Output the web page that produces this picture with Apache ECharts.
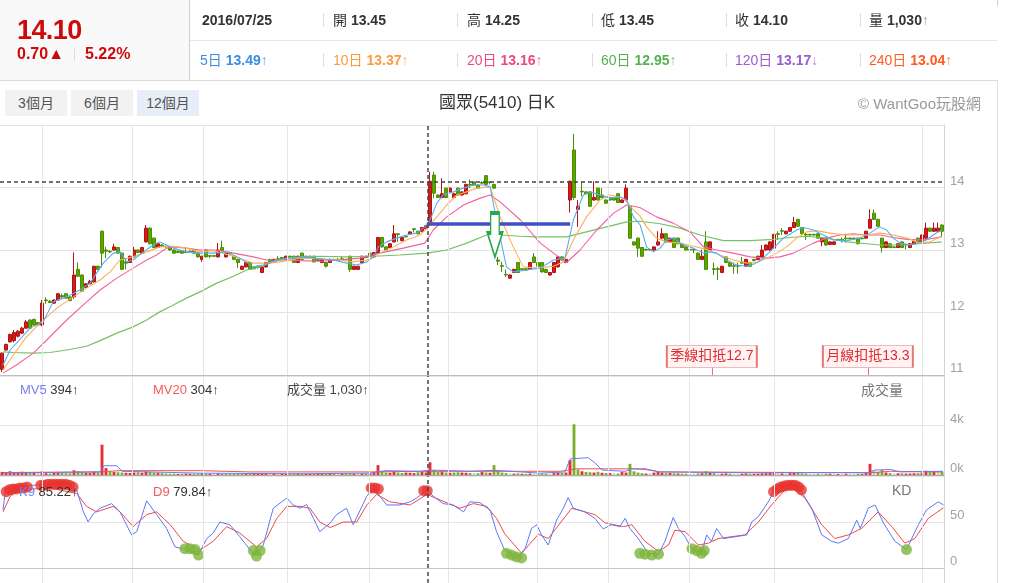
<!DOCTYPE html>
<html><head><meta charset="utf-8">
<script src="https://cdn.jsdelivr.net/npm/echarts@6/dist/echarts.min.js"></script>
<style>
html,body{margin:0;padding:0;background:#fff;}
body{width:1010px;height:583px;overflow:hidden;position:relative;font-family:"Liberation Sans","Noto Sans CJK TC",sans-serif;}
#chart{position:absolute;left:0;top:0;width:1010px;height:583px;}
#ov{position:absolute;left:0;top:0;width:1010px;height:583px;pointer-events:none;z-index:5;}
.t{position:absolute;white-space:nowrap;}
.b{font-weight:bold;}
.ln{position:absolute;background:#e2e2e2;}
.btn{position:absolute;top:90px;height:26px;line-height:26px;width:62px;text-align:center;font-size:14px;color:#555;background:#f2f2f2;}
</style></head><body>
<div id="chart"></div>
<div id="ov">
  <div style="position:absolute;left:0;top:0;width:189px;height:80px;background:#f9f9f9;"></div>
  <div class="ln" style="left:189px;top:0;width:1px;height:80px;background:#cfcfcf;"></div>
  <div class="ln" style="left:190px;top:40px;width:807px;height:1px;background:#e6e6e6;"></div>
  <div class="ln" style="left:0;top:80px;width:998px;height:1px;background:#dcdcdc;"></div>
  <div class="ln" style="left:997px;top:80px;width:1px;height:503px;background:#e0e0e0;"></div>
  <div class="ln" style="left:997px;top:0;width:1px;height:6px;background:#d0d0d0;"></div>

  <div class="t b" style="left:17px;top:15px;height:30px;line-height:30px;font-size:27px;letter-spacing:-0.6px;color:#cc0a0a;">14.10</div>
  <div class="t b" style="left:17px;top:45px;height:18px;line-height:18px;font-size:16px;color:#cc0a0a;">0.70▲</div>
  <div class="ln" style="left:74px;top:48px;width:1px;height:13px;background:#ddd;"></div>
  <div class="t b" style="left:85px;top:45px;height:18px;line-height:18px;font-size:16px;color:#cc0a0a;">5.22%</div>

  <div id="row1"></div>
  <div id="row2"></div>

  <div class="btn" style="left:5px;">3個月</div>
  <div class="btn" style="left:71px;">6個月</div>
  <div class="btn" style="left:137px;background:#e7eef8;">12個月</div>
  <div class="t" style="left:439px;top:92px;height:22px;line-height:22px;font-size:17px;color:#333;">國眾(5410) 日K</div>
  <div class="t" style="left:858px;top:94px;height:20px;line-height:20px;font-size:15px;color:#9a9a9a;">© WantGoo玩股網</div>

  <div class="t" style="left:20px;top:381px;height:18px;line-height:18px;font-size:13px;"><span style="color:#7b7bef">MV5</span> <span style="color:#333">394↑</span></div>
  <div class="t" style="left:153px;top:381px;height:18px;line-height:18px;font-size:13px;"><span style="color:#f35b5b">MV20</span> <span style="color:#333">304↑</span></div>
  <div class="t" style="left:287px;top:381px;height:18px;line-height:18px;font-size:13px;color:#444;">成交量 1,030↑</div>
  <div class="t" style="left:861px;top:381px;height:18px;line-height:18px;font-size:14px;color:#777;">成交量</div>
  <div class="t" style="left:19px;top:483px;height:18px;line-height:18px;font-size:13px;"><span style="color:#6f83f5">K9</span> <span style="color:#333">85.22↑</span></div>
  <div class="t" style="left:153px;top:483px;height:18px;line-height:18px;font-size:13px;"><span style="color:#f35b5b">D9</span> <span style="color:#333">79.84↑</span></div>
  <div class="t" style="left:892px;top:481px;height:18px;line-height:18px;font-size:14px;color:#777;">KD</div>
</div>
<script>
// ---------- header values ----------
const headerRow1 = [
  {x:202, label:'', value:'2016/07/25', arrow:''},
  {x:333, label:'開', value:'13.45', arrow:''},
  {x:467, label:'高', value:'14.25', arrow:''},
  {x:601, label:'低', value:'13.45', arrow:''},
  {x:735, label:'收', value:'14.10', arrow:''},
  {x:869, label:'量', value:'1,030', arrow:'↑'}
];
const headerRow2 = [
  {x:200, label:'5日',   value:'13.49', arrow:'↑', color:'#3b8de3'},
  {x:333, label:'10日',  value:'13.37', arrow:'↑', color:'#ff9a3c'},
  {x:467, label:'20日',  value:'13.16', arrow:'↑', color:'#ea4a82'},
  {x:601, label:'60日',  value:'12.95', arrow:'↑', color:'#55b04f'},
  {x:735, label:'120日', value:'13.17', arrow:'↓', color:'#9b5bd0'},
  {x:869, label:'240日', value:'13.04', arrow:'↑', color:'#ff5a1f'}
];
const sepXs = [323, 457, 592, 726, 860];

// ---------- candles [open, close, low, high] ----------
const candles = [
[11.09,11.35,11.05,11.36],[11.40,11.49,11.39,11.50],[11.53,11.65,11.52,11.66],[11.55,11.68,11.52,11.72],[11.62,11.70,11.60,11.72],
[11.67,11.75,11.66,11.77],[11.75,11.85,11.74,11.88],[11.88,11.75,11.74,11.89],[11.89,11.80,11.79,11.90],[11.84,11.80,11.79,11.85],
[11.80,12.15,11.78,12.20],[12.20,12.19,12.14,12.24],[12.18,12.16,12.15,12.20],[12.15,12.20,12.14,12.21],[12.20,12.30,12.19,12.31],
[12.27,12.25,12.22,12.30],[12.30,12.23,12.22,12.31],[12.25,12.19,12.18,12.26],[12.25,12.60,12.22,12.96],[12.69,12.58,12.57,12.80],
[12.60,12.34,12.33,12.61],[12.40,12.46,12.39,12.47],[12.46,12.50,12.45,12.52],[12.49,12.74,12.48,12.75],[12.74,12.69,12.68,12.75],
[13.30,12.95,12.72,13.31],[13.00,12.98,12.87,13.05],[12.98,12.97,12.95,13.00],[13.00,13.05,12.99,13.10],[13.04,12.95,12.94,13.05],
[12.95,12.69,12.68,12.96],[12.81,12.79,12.69,12.87],[12.80,12.90,12.79,12.91],[12.89,13.00,12.88,13.05],[13.00,12.96,12.95,13.01],
[12.95,13.04,12.94,13.05],[13.13,13.35,13.12,13.40],[13.35,13.10,13.09,13.36],[13.19,13.04,13.03,13.20],[13.04,13.10,13.03,13.11],
[13.08,13.06,13.05,13.10],[13.06,13.05,13.04,13.07],[13.04,13.00,12.99,13.05],[13.00,12.95,12.94,13.01],[12.98,12.96,12.95,12.99],
[12.99,12.95,12.94,13.00],[12.97,12.96,12.95,13.04],[12.98,12.97,12.96,12.99],[13.00,12.95,12.94,13.01],[12.95,12.89,12.88,12.96],
[12.85,12.90,12.81,12.91],[13.00,12.89,12.88,13.01],[12.91,12.90,12.87,12.92],[12.91,12.90,12.89,12.92],[12.89,13.00,12.88,13.11],
[13.04,12.99,12.98,13.15],[12.89,12.95,12.88,12.96],[12.96,12.94,12.93,12.97],[12.90,12.85,12.84,12.91],[12.85,12.80,12.71,12.86],
[12.69,12.74,12.68,12.75],[12.73,12.80,12.72,12.81],[12.80,12.69,12.68,12.81],[12.72,12.70,12.69,12.73],[12.74,12.72,12.70,12.75],
[12.64,12.73,12.63,12.74],[12.73,12.80,12.72,12.81],[12.85,12.80,12.79,12.86],[12.80,12.85,12.79,12.86],[12.86,12.85,12.84,12.90],
[12.88,12.86,12.85,12.89],[12.85,12.90,12.84,12.91],[12.90,12.88,12.87,12.91],[12.90,12.80,12.79,12.91],[12.80,12.90,12.79,12.91],
[12.95,12.85,12.84,12.96],[12.90,12.88,12.87,12.91],[12.90,12.89,12.88,12.91],[12.90,12.81,12.80,12.91],[12.85,12.83,12.82,12.86],
[12.80,12.85,12.79,12.86],[12.80,12.74,12.72,12.81],[12.80,12.85,12.79,12.86],[12.85,12.84,12.83,12.86],[12.85,12.84,12.83,12.87],
[12.86,12.85,12.84,12.90],[12.85,12.84,12.83,12.86],[12.90,12.69,12.65,12.91],[12.69,12.74,12.68,12.75],[12.69,12.74,12.68,12.75],
[12.80,12.90,12.79,12.91],[12.90,12.88,12.87,12.91],[12.95,12.89,12.88,12.96],[12.89,12.96,12.88,12.97],[12.95,13.20,12.94,13.21],
[13.20,13.05,13.04,13.21],[13.05,13.00,12.99,13.06],[13.04,13.10,13.03,13.11],[13.13,13.26,13.12,13.40],[13.26,13.25,13.13,13.27],
[13.15,13.20,13.14,13.21],[13.22,13.21,13.20,13.23],[13.26,13.29,13.25,13.30],[13.34,13.33,13.28,13.35],[13.30,13.26,13.25,13.31],
[13.30,13.36,13.29,13.37],[13.34,13.39,13.33,13.40],[13.45,14.10,13.45,14.25],[14.20,13.91,13.83,14.25],[13.88,13.84,13.83,13.89],
[13.84,13.90,13.83,14.15],[13.99,13.84,13.83,14.00],[13.93,13.99,13.92,14.00],[13.84,13.90,13.83,13.91],[13.99,13.88,13.87,14.00],
[13.88,13.93,13.87,13.94],[13.90,14.05,13.89,14.06],[14.05,14.04,13.99,14.13],[14.09,14.04,14.03,14.10],[14.04,13.99,13.98,14.05],
[14.08,14.07,14.05,14.10],[14.19,14.05,14.04,14.20],[14.09,14.08,14.05,14.10],[14.05,13.99,13.98,14.06],[12.84,12.82,12.76,12.89],
[12.75,12.74,12.65,12.81],[12.61,12.60,12.57,12.69],[12.55,12.60,12.54,12.61],[12.64,12.69,12.63,12.70],[12.80,12.64,12.63,12.81],
[12.70,12.69,12.68,12.71],[12.70,12.68,12.67,12.71],[12.69,12.80,12.68,12.81],[12.89,12.80,12.79,12.95],[12.80,12.74,12.73,12.81],
[12.80,12.65,12.64,12.81],[12.69,12.64,12.63,12.70],[12.60,12.64,12.59,12.65],[12.64,12.80,12.63,12.81],[12.73,12.89,12.72,12.90],
[12.89,12.84,12.83,12.90],[12.80,12.85,12.79,12.86],[13.80,14.10,13.60,14.11],[14.60,13.84,13.80,14.86],[13.65,13.70,13.37,13.80],
[13.94,13.93,13.86,14.10],[13.93,13.90,13.89,13.94],[13.93,13.70,13.69,13.94],[13.80,13.84,13.79,14.10],[13.99,13.80,13.79,14.00],
[13.88,13.84,13.83,13.99],[13.80,13.75,13.74,13.81],[13.84,13.80,13.79,13.85],[13.84,13.80,13.79,13.85],[13.90,13.76,13.75,13.91],
[13.76,13.80,13.75,13.81],[13.80,13.99,13.79,14.05],[13.70,13.19,13.18,13.71],[13.13,13.08,13.07,13.14],[13.19,13.03,12.89,13.20],
[13.04,12.90,12.89,13.05],[13.01,13.00,12.99,13.02],[13.01,13.00,12.99,13.02],[13.00,13.05,12.99,13.06],[13.08,13.13,13.07,13.30],
[13.19,13.26,13.18,13.35],[13.26,13.13,13.12,13.27],[13.13,13.19,13.12,13.20],[13.19,13.04,13.03,13.20],[13.19,13.10,13.09,13.20],
[13.10,13.04,13.03,13.11],[13.05,13.00,12.99,13.06],[13.01,13.00,12.98,13.02],[13.01,13.00,12.95,13.02],[12.95,12.85,12.84,12.96],
[12.85,12.90,12.84,13.00],[13.13,12.69,12.68,13.30],[13.00,13.13,12.99,13.14],[12.70,12.69,12.60,12.80],[12.70,12.69,12.52,12.73],
[12.64,12.74,12.63,12.75],[12.89,12.80,12.79,12.90],[12.80,12.74,12.73,12.81],[12.75,12.74,12.62,12.80],[12.75,12.74,12.62,12.80],
[12.81,12.79,12.78,12.89],[12.74,12.85,12.73,12.86],[12.80,12.74,12.73,12.81],[12.85,12.83,12.82,12.86],[12.85,12.90,12.84,12.91],
[12.89,13.00,12.88,13.08],[13.00,13.08,12.99,13.09],[13.00,13.13,12.99,13.14],[13.03,13.25,13.02,13.26],[13.26,13.25,13.16,13.30],
[13.31,13.30,13.24,13.35],[13.26,13.30,13.25,13.31],[13.30,13.36,13.29,13.37],[13.36,13.44,13.35,13.53],[13.49,13.38,13.37,13.50],
[13.36,13.26,13.25,13.37],[13.25,13.24,13.16,13.28],[13.25,13.24,13.23,13.26],[13.25,13.24,13.23,13.26],[13.26,13.19,13.18,13.27],
[13.13,13.19,13.06,13.20],[13.19,13.08,13.07,13.20],[13.09,13.13,13.08,13.14],[13.09,13.13,13.08,13.14],[13.17,13.16,13.15,13.18],
[13.17,13.16,13.12,13.20],[13.19,13.18,13.12,13.26],[13.19,13.18,13.17,13.20],[13.19,13.18,13.17,13.20],[13.19,13.10,13.09,13.20],
[13.19,13.18,13.17,13.20],[13.19,13.30,13.18,13.31],[13.35,13.49,13.34,13.65],[13.59,13.49,13.48,13.65],[13.49,13.38,13.37,13.50],
[13.19,13.04,12.96,13.20],[13.04,13.13,13.03,13.14],[13.10,13.04,13.03,13.11],[13.05,13.04,13.03,13.06],[13.04,13.10,13.03,13.11],
[13.13,13.04,13.03,13.14],[13.09,13.08,13.01,13.10],[13.04,13.10,13.03,13.11],[13.10,13.14,13.09,13.15],[13.19,13.13,13.12,13.20],
[13.13,13.24,13.12,13.25],[13.19,13.35,13.18,13.44],[13.35,13.30,13.29,13.36],[13.30,13.35,13.29,13.44],[13.30,13.35,13.29,13.44],
[13.40,13.30,13.21,13.41]
];

// ---------- volumes (shares, thousands shown as k) ----------
const volumes = [
250,200,300,220,180,260,240,200,180,160, 280,150,120,160,200,180,150,140,380,300,
220,180,160,260,200,2450,560,300,250,220, 200,180,160,200,220,180,280,250,200,180,
150,120,100,110,90,100,120,100,90,110, 130,100,80,90,120,110,90,80,100,120,
100,90,110,80,90,100,120,100,90,80, 90,100,80,90,110,100,90,80,100,120,
100,90,80,90,80,100,120,100,90,120, 100,120,150,200,800,300,200,180,300,200,
160,200,180,150,220,250,200,1030,380,250, 300,200,180,200,220,200,180,160,150,140,
250,200,180,800,300,200,150,120,110,130, 100,90,120,100,110,120,100,90,150,200,
180,200,1200,4100,450,300,250,220,200,260, 180,160,150,140,120,250,200,900,300,200,
150,120,140,200,250,180,150,160,140,120, 110,100,90,100,120,140,300,200,150,120,
110,130,100,90,80,100,120,90,100,110, 130,150,160,200,140,120,110,150,170,160,
130,110,100,90,100,120,110,100,90,80, 90,100,80,90,100,90,150,900,400,250,
400,200,150,120,140,130,110,120,140,150, 200,350,250,300,280,250
];

// ---------- moving averages: [dayPosition, value] ----------
const ma5 = [[0,11.16],[1.8,11.40],[6.8,11.75],[10.1,11.85],[12.6,12.17],[16,12.25],[19.3,12.36],[21.9,12.47],[23.5,12.63],[25.2,12.79],[27.7,12.95],[29.4,12.97],[31.1,12.81],[32.7,12.84],[35.3,12.97],[37.8,13.08],[39.4,13.13],[41.1,13.08],[42.8,13.03],[46.1,12.97],[49.5,12.95],[52.8,12.95],[56.2,12.97],[59.5,12.87],[62.9,12.73],[65.4,12.76],[68.8,12.84],[72.1,12.87],[76.3,12.89],[79.6,12.86],[83,12.84],[86.4,12.79],[88.9,12.76],[91.4,12.81],[93.1,12.89],[94.3,13.05],[96.4,13.13],[98.9,13.19],[101.4,13.24],[103.9,13.27],[106,13.37],[107.3,13.48],[109,13.75],[110.6,13.88],[113.2,13.93],[115.7,13.99],[118.2,14.04],[120.7,14.04],[122.4,14.01],[124,13.48],[126.5,12.73],[128.2,12.65],[131.6,12.68],[134.9,12.71],[138.3,12.84],[141.2,12.87],[143.3,13.48],[145.8,13.88],[147.5,13.93],[150,13.88],[152.5,13.83],[155,13.85],[156.7,13.80],[158.4,13.53],[160.1,13.40],[161.7,13.05],[163.4,12.97],[165.1,13.03],[166.7,13.16],[168.4,13.19],[171,13.08],[173.4,13.03],[176,12.95],[177.6,12.97],[179.3,12.95],[181.8,12.84],[184.3,12.76],[186.8,12.74],[188.9,12.78],[191,12.87],[193.6,13.03],[196.1,13.19],[199.4,13.32],[201.1,13.36],[203.6,13.32],[206.1,13.24],[208.6,13.16],[212,13.15],[215.3,13.19],[217.8,13.27],[220.3,13.37],[222,13.32],[223.7,13.19],[225.4,13.11],[227.9,13.08],[229.5,13.10],[232,13.16],[233.7,13.24],[235.8,13.32]];
const ma10 = [[0,11.08],[2.6,11.32],[5.9,11.61],[9.3,11.83],[13.5,12.07],[17.7,12.25],[21,12.39],[24.4,12.52],[26.9,12.65],[29.4,12.84],[32.7,12.89],[36.1,12.97],[39.4,13.05],[42.8,13.06],[46.1,13.03],[49.5,12.97],[52.8,12.99],[57.9,12.90],[62.9,12.79],[66.2,12.79],[69.6,12.81],[74.6,12.87],[79.6,12.86],[84.7,12.84],[88,12.81],[91.4,12.84],[94.7,12.95],[98.1,13.05],[101.4,13.16],[104.8,13.24],[106.9,13.37],[109,13.53],[111.5,13.72],[114,13.88],[116.5,13.93],[119,13.99],[122.4,14.01],[124.9,13.53],[128.2,13.05],[130.7,12.73],[134.1,12.71],[138.3,12.74],[140.8,12.81],[143.3,13.16],[146.6,13.53],[150,13.80],[152.5,13.88],[155.9,13.83],[158.4,13.64],[160,13.55],[161.7,13.37],[164.2,13.19],[166.7,13.13],[170,13.11],[173.4,13.06],[176.8,13.01],[180.1,12.92],[183.5,12.84],[186.9,12.79],[189.4,12.80],[191.9,12.87],[194.4,12.95],[196.9,13.05],[199.4,13.19],[201.9,13.29],[204.4,13.31],[207.8,13.27],[212,13.24],[217,13.24],[220.3,13.27],[223.7,13.24],[227.1,13.19],[230.4,13.11],[232.9,13.13],[235.8,13.22]];
const ma20 = [[0,11.03],[3.4,11.16],[7.6,11.35],[11,11.56],[16,11.88],[21,12.17],[24.4,12.36],[28.6,12.55],[32.7,12.71],[36.1,12.84],[38.6,12.92],[41.1,13.03],[42.8,13.05],[46.1,13.03],[49.5,13.00],[53.7,13.00],[57.9,12.95],[62.9,12.89],[66.2,12.84],[70.4,12.84],[74.6,12.83],[79.6,12.82],[84.7,12.84],[89.7,12.87],[94.7,12.95],[100.6,13.03],[106,13.11],[108.1,13.32],[111.5,13.53],[115.7,13.72],[119.9,13.83],[122.4,13.88],[124.9,13.77],[130,13.48],[135,13.11],[140,12.87],[141.6,12.80],[145,13.00],[149.2,13.32],[153.4,13.59],[156.7,13.72],[160,13.68],[164.2,13.53],[168.4,13.43],[172.6,13.29],[176,13.05],[179.3,13.00],[183.5,12.95],[187.7,12.89],[191.9,12.87],[195.2,12.89],[198.6,12.95],[201.1,13.03],[203.6,13.11],[206.9,13.19],[210.3,13.24],[213.6,13.26],[217,13.24],[220.3,13.24],[223.7,13.20],[227.1,13.17],[231.2,13.16],[235.8,13.21]];
const ma60 = [[0,11.37],[2.6,11.36],[7.6,11.35],[11.8,11.36],[16,11.40],[21,11.46],[24.4,11.55],[28.6,11.67],[32.7,11.77],[36.1,11.88],[39.4,12.01],[42.8,12.12],[46.1,12.23],[49.5,12.33],[53.7,12.47],[57.9,12.58],[61.2,12.68],[64.6,12.73],[67.9,12.81],[71.3,12.87],[74.6,12.89],[79.6,12.90],[86.4,12.89],[93.1,12.90],[99.7,12.92],[106.5,12.95],[111.5,13.00],[116.5,13.11],[121.5,13.24],[124.9,13.24],[130,13.22],[134,13.21],[141.6,13.21],[146.6,13.29],[151.7,13.37],[156.7,13.45],[160,13.46],[165.1,13.42],[170.1,13.35],[175.1,13.24],[181,13.15],[187.7,13.15],[193.6,13.17],[197.7,13.20],[201.9,13.22],[206.9,13.19],[212,13.13],[217,13.10],[220.3,13.08],[225.4,13.08],[230.4,13.10],[235.8,13.13]];

// ---------- volume averages ----------
const mv5 = [[0,150],[9.3,200],[24.4,250],[25.4,750],[28.6,750],[29.9,300],[49.5,150],[74.6,100],[92.2,150],[96,350],[104.8,300],[107.3,400],[117.3,300],[123.6,380],[134.9,150],[141.2,250],[142.5,1300],[147,1400],[148.7,1000],[150.5,400],[156.3,300],[158,500],[161.3,450],[165,250],[187.7,180],[217.8,200],[219,400],[222.9,450],[225.4,250],[236.2,300]];
const mv20 = [[0,200],[24.4,250],[29.4,350],[49.5,350],[62,250],[92,250],[105,300],[140,300],[144,500],[161.3,500],[165,250],[218,180],[223,300],[236.2,250]];

// ---------- KD ----------
const kLine = [[0,63],[0.5,81],[2.6,87],[7.6,90],[16,92],[18.5,85],[20.2,61],[21.4,50],[22.7,59],[24.4,65],[27.3,70],[29.4,61],[32.3,36],[33.6,39.5],[36.1,73],[38.6,58],[41.1,43],[43.2,23],[46.1,19.6],[49.1,14],[51.2,32],[52.8,38],[54.5,50],[57,47],[59.5,34],[62.1,19.6],[63.7,14],[65.4,25],[67.9,65],[71.3,76],[72.9,68.5],[74.6,65],[76.3,69],[78,54],[79.6,39.5],[82.2,49],[83.8,58],[86.3,65],[88,47],[91.4,78],[93.1,87],[96.4,68.5],[99.7,68.5],[102.3,72],[103.9,76],[106.5,85],[108.1,78],[110.6,70],[113.1,68.5],[115.7,61],[117.3,72],[119.8,71],[122.4,63],[124,39.5],[126,19.6],[129.5,12.3],[131.2,21.4],[132.8,43],[134.1,47],[135.3,36],[137,25],[139.1,52],[140.8,65],[142,76.5],[143.3,65],[146.2,61],[148.7,54],[150.8,42.5],[152.9,47],[155,45],[156.3,54],[157.5,43],[159.6,32],[162.1,16],[164.7,15],[166.3,29],[168.4,55],[169.7,43],[171.4,34],[173,21],[175.5,16],[176.8,36],[178,29],[179.3,43],[181,32],[184,34],[186.9,36],[188.1,50],[189.8,56],[192.3,72],[193.6,83],[195.6,88.5],[198.1,91],[200.3,85],[203.2,65],[205.7,36],[208.2,29],[209.9,27],[212.4,32],[214.5,52],[215.4,43],[217.4,65],[219.1,68.5],[221.2,49],[224.1,29],[227,20],[230,47],[232,63],[235,72],[236.3,68.5]];
const dLine = [[0,61],[1.8,78],[4.3,85],[11.8,87],[18.5,81],[21,67],[23.5,61],[27.7,67],[29.4,61],[32.7,45],[36.1,58],[38.6,61],[42,47],[45.3,29],[49.5,19.6],[52.8,29],[56.2,45],[59.5,38],[63.7,23],[66.2,32],[68.8,54],[71.3,67],[74.6,67],[77.1,65],[79.6,50],[82.2,44],[85.5,50],[88.9,50],[91.4,68.5],[93.9,80],[97.2,72],[102.3,68.5],[106.5,80],[109.8,74],[114.8,65],[118.2,70],[121.5,67],[124,54],[126.1,37],[130.3,16],[134.5,36.7],[137,32],[142.9,65],[148.7,58],[151.3,49],[155.9,45],[158,47],[161.3,29],[164.7,18],[167.2,25],[168.8,41],[171.4,39.5],[174.7,25],[177.2,27],[179.7,32],[186.4,36],[189.8,50],[193.1,68.5],[196.5,85],[199,85],[201.5,76],[205.7,47],[209,32],[212.4,36],[215.7,43],[219.9,61],[223.3,45],[226.6,27],[229.1,32],[232.5,54],[236.3,65.5]];
const kHighDots = [[0.8,83],[1.6,85],[2.5,86],[3.4,86],[4.3,87],[5.2,87],[6.1,88],[9.5,90],[10.4,90],[11.3,91],[12.2,91],[13.1,91],[14,91],[14.9,91],[15.8,91],[16.7,90],[17.6,88],[92.5,87],[93.4,87],[94.3,86],[105.7,84],[106.6,84],[193.6,83],[194.5,86],[195.4,88],[196.3,89],[197.2,90],[198.1,90],[199,90],[199.9,88],[200.6,85]];
const kLowDots = [[45.7,21],[47,21],[48.3,20],[49.1,14],[62.9,19],[63.7,13],[64.6,19],[126.5,16],[127.8,14],[129,12],[130.3,11],[160,16],[161.3,15],[163,14],[164.7,15],[173.1,21],[174.3,19],[175.5,16],[176.2,19],[227,20]];

// ---------- guides / annotations ----------
const monthStarts = [9.8, 32.4, 50.3, 71.4, 92, 111.8, 134.2, 152, 172.4, 193.7, 230.9];
const crossDay = 106.7, crossPrice = 14.10;
const blueLine = {from:106.5, to:142.5, price:13.42};
const arrowAt = [123.6, 13.24];
const notes = [{day:178.1, text:'季線扣抵12.7'}, {day:217.3, text:'月線扣抵13.3'}];
const priceTicks = [11, 15, 1], volTicks = [0, 8000, 4000], kdTicks = [0, 100, 50];

// ---------- header build ----------
function hdr(row, top, id){
  const el = document.getElementById(id);
  let html = '';
  row.forEach(r=>{
    const col = r.color || '#333';
    html += `<div class="t" style="left:${r.x}px;top:${top}px;height:20px;line-height:20px;font-size:14px;">`+
      (r.label?`<span style="color:${col}">${r.label}</span> `:'')+
      `<span class="b" style="color:${col}">${r.value}</span>`+
      (r.arrow?`<span style="color:${r.color?col:'#888'};opacity:0.75">${r.arrow}</span>`:'')+`</div>`;
  });
  sepXs.forEach(x=>{ html += `<div class="ln" style="left:${x}px;top:${top+3}px;width:1px;height:14px;background:#ddd;"></div>`; });
  el.innerHTML = html;
}
hdr(headerRow1, 10, 'row1');
hdr(headerRow2, 50, 'row2');

// ---------- chart ----------
const chart = echarts.init(document.getElementById('chart'));
const days = candles.map((_, i) => i + 1);
const FONT = '"Liberation Sans","Noto Sans CJK TC",sans-serif';
const XMIN = -0.754, XMAX = 236.43;
const volData = volumes.map((v, i) => {
  const c = candles[i][1], p = i ? candles[i-1][1] : candles[i][0];
  return {value: v, itemStyle: {color: c > p ? '#e53131' : (c < p ? '#79b12f' : '#c9c9c9')}};
});
const monthLine = monthStarts.map(m => ({xAxis: m}));
const crossV = {xAxis: crossDay, lineStyle: {color: '#444', type: [4, 3], width: 1.5}};
function guide(xi, yi, extra){
  return {type: 'line', xAxisIndex: xi, yAxisIndex: yi, data: [], z: 1, silent: true,
    markLine: {silent: true, symbol: ['none','none'], label: {show: false}, animation: false,
      lineStyle: {color: '#e6e6e6', type: 'solid', width: 1}, data: monthLine.concat(extra || [])}};
}
const grids = [
  {left: 0, right: 66, top: 125, height: 250},
  {left: 0, right: 66, top: 376, height: 99},
  {left: 0, right: 66, top: 476, height: 92},
  {left: 0, right: 66, top: 569, height: 14}
];
const lbl = (fmt) => ({show: true, inside: false, margin: 6, color: '#a2a2a2', fontSize: 13, fontFamily: FONT, verticalAlign: 'bottom', formatter: fmt});
const yLine = {show: true, onZero: false, lineStyle: {color: '#d4d4d4'}};
const option = {
  animation: false,
  grid: grids.map(g => Object.assign({show: false}, g)),
  xAxis: [
    {type: 'category', gridIndex: 0, data: days, boundaryGap: true, axisLine: {show: true, onZero: false, lineStyle: {color: '#bdbdbd'}}, axisTick: {show: false}, axisLabel: {show: false}, splitLine: {show: false}},
    {type: 'value', gridIndex: 0, min: XMIN, max: XMAX, show: false},
    {type: 'category', gridIndex: 1, data: days, boundaryGap: true, axisLine: {show: true, onZero: false, lineStyle: {color: '#aaaaaa'}}, axisTick: {show: false}, axisLabel: {show: false}, splitLine: {show: false}},
    {type: 'value', gridIndex: 1, min: XMIN, max: XMAX, show: false},
    {type: 'value', gridIndex: 2, min: XMIN, max: XMAX, axisLine: {show: true, onZero: false, lineStyle: {color: '#c8c8c8'}}, axisTick: {show: false}, axisLabel: {show: false}, splitLine: {show: false}},
    {type: 'value', gridIndex: 3, min: XMIN, max: XMAX, show: false}
  ],
  yAxis: [
    {type: 'value', gridIndex: 0, position: 'right', min: priceTicks[0], max: priceTicks[1], interval: priceTicks[2],
      axisLine: yLine, axisTick: {show: false},
      axisLabel: lbl(v => v === priceTicks[1] ? '' : String(v)), splitLine: {show: true, lineStyle: {color: '#e3e3e3'}}},
    {type: 'value', gridIndex: 1, position: 'right', min: volTicks[0], max: volTicks[1], interval: volTicks[2],
      axisLine: yLine, axisTick: {show: false},
      axisLabel: lbl(v => v === volTicks[1] ? '' : (v / 1000) + 'k'), splitLine: {show: true, lineStyle: {color: '#e6e6e6'}}},
    {type: 'value', gridIndex: 2, position: 'right', min: kdTicks[0], max: kdTicks[1], interval: kdTicks[2],
      axisLine: yLine, axisTick: {show: false},
      axisLabel: lbl(v => v === kdTicks[1] ? '' : String(v)), splitLine: {show: true, lineStyle: {color: '#e6e6e6'}}},
    {type: 'value', gridIndex: 3, position: 'right', min: 0, max: 1, axisLine: yLine, axisTick: {show: false}, axisLabel: {show: false}, splitLine: {show: false}}
  ],
  series: [
    guide(1, 0),
    {type: 'candlestick', xAxisIndex: 0, yAxisIndex: 0, data: candles, barWidth: '72%', z: 2,
      itemStyle: {color: '#d21d1d', color0: '#5da600', borderColor: '#b41212', borderColor0: '#4d8d00', borderWidth: 1}},
    {type: 'line', xAxisIndex: 1, yAxisIndex: 0, data: ma60, symbol: 'none', z: 3, lineStyle: {color: '#74c264', width: 1.2}},
    {type: 'line', xAxisIndex: 1, yAxisIndex: 0, data: ma20, symbol: 'none', z: 3, lineStyle: {color: '#f2619a', width: 1.1}},
    {type: 'line', xAxisIndex: 1, yAxisIndex: 0, data: ma10, symbol: 'none', z: 3, lineStyle: {color: '#ffae5c', width: 1.1}},
    {type: 'line', xAxisIndex: 1, yAxisIndex: 0, data: ma5, symbol: 'none', z: 3, lineStyle: {color: '#55aef0', width: 1.1}},
    {type: 'line', xAxisIndex: 1, yAxisIndex: 0, data: [], z: 6, silent: true,
      markLine: {silent: true, symbol: ['none','none'], label: {show: false}, animation: false,
        data: [
          crossV,
          {yAxis: crossPrice, lineStyle: {color: '#444', type: [4, 3], width: 1.5}},
          [{coord: [blueLine.from, blueLine.price], lineStyle: {color: '#3f4fc6', width: 3.5, type: 'solid'}}, {coord: [blueLine.to, blueLine.price]}],
          [{coord: [notes[0].day, priceTicks[0] + 0.12], lineStyle: {color: '#e27a7a', width: 1, type: 'solid'}}, {coord: [notes[0].day, priceTicks[0]]}],
          [{coord: [notes[1].day, priceTicks[0] + 0.12], lineStyle: {color: '#e27a7a', width: 1, type: 'solid'}}, {coord: [notes[1].day, priceTicks[0]]}]
        ]},
      markPoint: {silent: true, animation: false,
        data: [
          {coord: arrowAt, symbol: 'path://M3,0 L11,0 L11,20 L14,20 L7,44 L0,20 L3,20 Z', symbolSize: [15, 44],
            itemStyle: {color: '#ffffff', borderColor: '#27a84a', borderWidth: 2.2}, label: {show: false}},
          ...notes.map(n => ({coord: [n.day, priceTicks[0] + 0.296], symbol: 'rect', symbolSize: [90, 22],
            itemStyle: {color: '#fff3f3', borderColor: '#e27a7a', borderWidth: 1},
            label: {show: true, position: 'inside', formatter: n.text, color: '#df2a2f', fontSize: 14, fontFamily: FONT}}))
        ]}},
    guide(3, 1, [crossV]),
    {type: 'bar', xAxisIndex: 2, yAxisIndex: 1, data: volData, barWidth: '72%', z: 2},
    {type: 'line', xAxisIndex: 3, yAxisIndex: 1, data: mv20, symbol: 'none', z: 3, lineStyle: {color: '#f05050', width: 1}},
    {type: 'line', xAxisIndex: 3, yAxisIndex: 1, data: mv5, symbol: 'none', z: 3, lineStyle: {color: '#6a7bf7', width: 1}},
    guide(4, 2, [crossV]),
    {type: 'line', xAxisIndex: 4, yAxisIndex: 2, data: dLine, symbol: 'none', z: 3, lineStyle: {color: '#f04848', width: 1}},
    {type: 'line', xAxisIndex: 4, yAxisIndex: 2, data: kLine, symbol: 'none', z: 3, lineStyle: {color: '#5b78f5', width: 1}},
    {type: 'scatter', xAxisIndex: 4, yAxisIndex: 2, data: kHighDots, symbolSize: 11, z: 4, itemStyle: {color: '#e8332f'}},
    {type: 'scatter', xAxisIndex: 4, yAxisIndex: 2, data: kLowDots, symbolSize: 11, z: 4, itemStyle: {color: '#7db53b'}},
    guide(5, 3, [crossV])
  ]
};
chart.setOption(option);
</script>
</body></html>
